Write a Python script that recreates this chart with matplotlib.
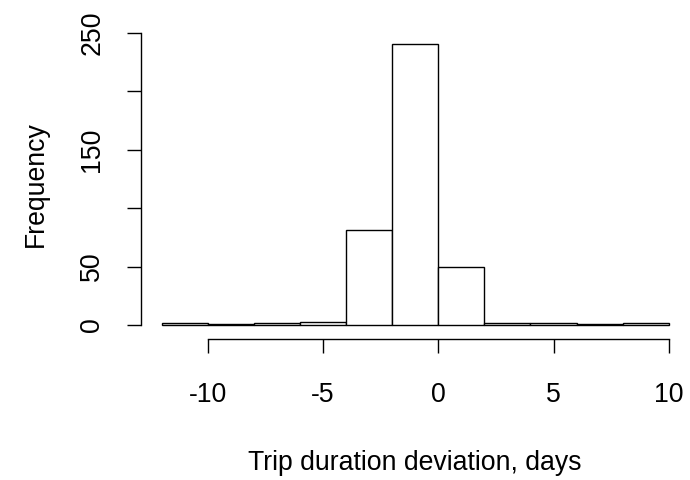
import matplotlib
matplotlib.use("Agg")
import matplotlib.pyplot as plt
import numpy as np

bin_edges = [-12, -10, -8, -6, -4, -2, 0, 2, 4, 6, 8, 10]
counts = [2, 1, 2, 3, 81, 241, 50, 2, 2, 1, 2]
xticks = [-10, -5, 0, 5, 10]
yticks = [0, 50, 100, 150, 200, 250]
yticklabels = ["0", "50", "", "150", "", "250"]

plt.rcParams['font.family'] = ['Liberation Sans', 'DejaVu Sans']
fig = plt.figure(figsize=(6.9, 4.8), dpi=100)
ax = fig.add_axes([0.205, 0.2994, 0.7936, 0.6333])

edges = np.array(bin_edges)
ax.bar(edges[:-1], counts, width=np.diff(edges), align='edge',
       facecolor='white', edgecolor='black', linewidth=1.0)

ax.set_xlim(-12.88, 10.88)
ax.set_ylim(-9.64, 250.64)
for s in ['top', 'right']:
    ax.spines[s].set_visible(False)
ax.spines['left'].set_bounds(0, 250)
ax.spines['bottom'].set_bounds(-10, 10)
ax.spines['left'].set_position(('outward', 0))
ax.spines['bottom'].set_position(('outward', 2))
for s in ['left', 'bottom']:
    ax.spines[s].set_linewidth(1.0)

fs = 19.2
ax.set_xticks(xticks)
ax.set_xticklabels([str(t) for t in xticks], fontsize=fs)
ax.set_yticks(yticks)
ax.set_yticklabels(yticklabels, fontsize=fs, rotation=90, va='center')
ax.tick_params(axis='both', length=10, width=1.0, color='black')
ax.tick_params(axis='x', pad=21)
ax.tick_params(axis='y', pad=16)

ax.set_xlabel("Trip duration deviation, days", fontsize=fs, labelpad=30)
ax.set_ylabel("Frequency", fontsize=fs, labelpad=22)

fig.savefig("out.png", dpi=100)
